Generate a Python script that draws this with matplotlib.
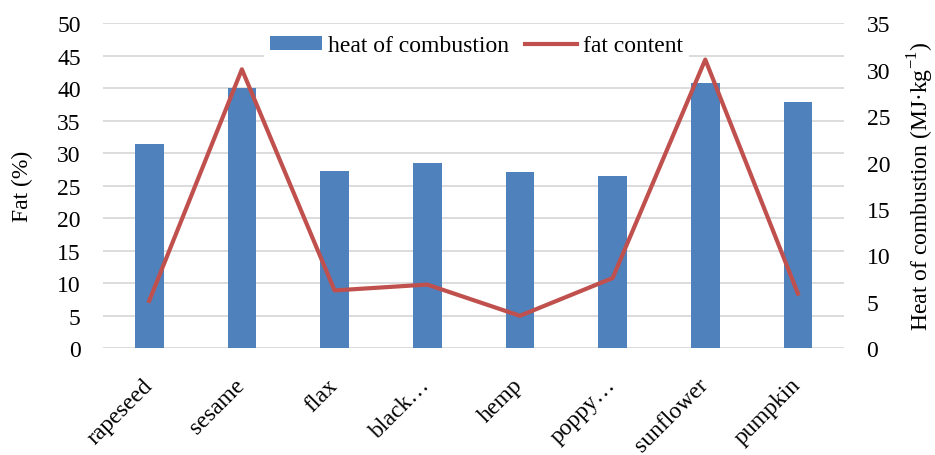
import matplotlib.pyplot as plt
import matplotlib.transforms as mtransforms
import numpy as np

plt.rcParams['font.family'] = ['Liberation Serif', 'DejaVu Serif']

categories = ['rapeseed', 'sesame', 'flax', 'black…', 'hemp', 'poppy…', 'sunflower', 'pumpkin']
heat_of_combustion = [22.0, 28.0, 19.1, 20.0, 19.0, 18.5, 28.6, 26.5]   # MJ/kg, right axis
fat_content = [7.3, 42.9, 8.9, 9.8, 5.0, 10.8, 44.4, 8.4]              # %, left axis
fat_ticks = np.arange(0, 51, 5)
heat_ticks = np.arange(0, 36, 5)

BAR_COLOR = '#4f81bd'
LINE_COLOR = '#c0504d'
GRID_COLOR = '#d9d9d9'
FS = 17

fig = plt.figure(figsize=(9.35, 4.56), dpi=100)
ax = fig.add_axes([0.110, 0.234, 0.793, 0.713])
ax2 = ax.twinx()

x = np.arange(len(categories))

# bars on the right (heat) axis, line on the left (fat) axis
bars = ax2.bar(x, heat_of_combustion, width=0.31, color=BAR_COLOR, zorder=2)
line, = ax.plot(x, fat_content, color=LINE_COLOR, lw=3.0, zorder=3)
ax.set_zorder(ax2.get_zorder() + 1)
ax.patch.set_visible(False)

ax.set_xlim(-0.5, len(categories) - 0.5)
ax.set_ylim(0, 50)
ax2.set_ylim(0, 35)
ax.set_yticks(fat_ticks)
ax2.set_yticks(heat_ticks)

# gridlines follow the left axis but sit behind the bars
trans = mtransforms.blended_transform_factory(ax2.transAxes, ax.transData)
ax2.hlines(fat_ticks, 0, 1, transform=trans, color=GRID_COLOR, lw=1.3, zorder=1)

for a in (ax, ax2):
    for s in a.spines.values():
        s.set_visible(False)
    a.tick_params(axis='both', length=0, labelsize=FS)

ax.tick_params(axis='y', pad=16)
ax2.tick_params(axis='y', pad=16)

ax.set_xticks(x)
ax.set_xticklabels(categories, rotation=45, ha='right', va='center', rotation_mode='anchor')
ax.tick_params(axis='x', pad=24)

ax.set_ylabel('Fat (%)', fontsize=FS)
ax.yaxis.set_label_coords(-0.108, 0.5)
ax.yaxis.label.set_va('center')
ax2.set_ylabel('Heat of combustion (MJ·kg$^{\\mathregular{-1}}$)', fontsize=FS)
ax2.yaxis.set_label_coords(1.1026, 0.5)
ax2.yaxis.label.set_va('center')

leg = ax.legend([bars, line], ['heat of combustion', 'fat content'], loc='center',
                bbox_to_anchor=(0.504, 0.930), ncol=2, frameon=True, fontsize=FS,
                handlelength=2.2, handleheight=0.5, columnspacing=0.7, handletextpad=0.25,
                borderpad=0.25, borderaxespad=0)
leg.get_frame().set_edgecolor('none')
leg.get_frame().set_facecolor('white')
leg.get_frame().set_alpha(1)

fig.savefig('out.png', dpi=100)
